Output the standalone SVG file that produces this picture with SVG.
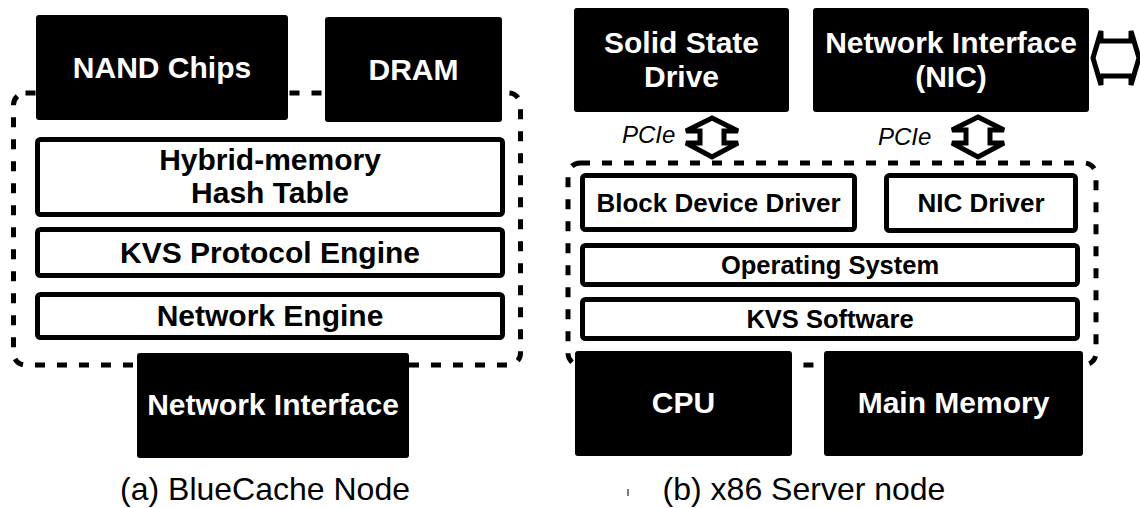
<svg xmlns="http://www.w3.org/2000/svg" width="1140" height="508" viewBox="0 0 1140 508">
<style>
.bg{fill:#fff}
.dash{fill:none;stroke:#000;stroke-width:5;stroke-dasharray:10 12}
.blk{fill:#000}
.wht{fill:#fff;stroke:#000;stroke-width:5}
.arr{fill:#fff;stroke:#000;stroke-width:5;stroke-linejoin:miter}
.tw{font-family:"Liberation Sans",Arial,sans-serif;font-weight:bold;font-size:30px;fill:#fff;text-anchor:middle}
.tb{font-family:"Liberation Sans",Arial,sans-serif;font-weight:bold;font-size:30px;fill:#000;text-anchor:middle}
.ts{font-family:"Liberation Sans",Arial,sans-serif;font-weight:bold;font-size:26px;fill:#000;text-anchor:middle}
.tss{font-family:"Liberation Sans",Arial,sans-serif;font-weight:bold;font-size:25.5px;fill:#000;text-anchor:middle}
.pc{font-family:"Liberation Sans",Arial,sans-serif;font-style:italic;font-size:24px;fill:#000}
.cap{font-family:"Liberation Sans",Arial,sans-serif;font-size:32px;fill:#000;text-anchor:middle}
</style>
<rect class="bg" x="0" y="0" width="1140" height="508"/>

<!-- (a) BlueCache node -->
<g id="container-a"><rect class="dash" x="13.5" y="93" width="507" height="272" rx="12"/></g>
<g id="nand"><rect class="blk" x="36" y="15" width="252" height="105" rx="3"/><text class="tw" x="162" y="78">NAND Chips</text></g>
<g id="dram"><rect class="blk" x="325" y="17" width="177" height="105" rx="3"/><text class="tw" x="413.5" y="80">DRAM</text></g>
<g id="hashtable"><rect class="wht" x="37.5" y="139.5" width="465" height="75" rx="3"/><text class="tb" x="270" y="170">Hybrid-memory</text><text class="tb" x="270" y="203">Hash Table</text></g>
<g id="kvs-engine"><rect class="wht" x="37.5" y="229.5" width="465" height="46" rx="3"/><text class="tb" x="270" y="263">KVS Protocol Engine</text></g>
<g id="net-engine"><rect class="wht" x="37.5" y="294.5" width="465" height="43" rx="3"/><text class="tb" x="270" y="326">Network Engine</text></g>
<g id="net-iface-a"><rect class="blk" x="137" y="353" width="272" height="105" rx="3"/><text class="tw" x="273" y="415">Network Interface</text></g>
<text class="cap" x="265" y="500">(a) BlueCache Node</text>

<!-- (b) x86 server node -->
<g id="container-b"><rect class="dash" x="568" y="163" width="528" height="202" rx="12"/></g>
<g id="ssd"><rect class="blk" x="574" y="8" width="215" height="104" rx="3"/><text class="tw" x="681.5" y="53">Solid State</text><text class="tw" x="681.5" y="87">Drive</text></g>
<g id="nic"><rect class="blk" x="813" y="8" width="276" height="104" rx="3"/><text class="tw" x="951" y="53">Network Interface</text><text class="tw" x="951" y="87">(NIC)</text></g>
<g id="block-driver"><rect class="wht" x="582.5" y="175.5" width="272" height="54" rx="3"/><text class="ts" x="718.5" y="212">Block Device Driver</text></g>
<g id="nic-driver"><rect class="wht" x="886.5" y="175.5" width="189" height="55" rx="3"/><text class="ts" x="981" y="212">NIC Driver</text></g>
<g id="os"><rect class="wht" x="582.5" y="245.5" width="495" height="39" rx="3"/><text class="tss" x="830" y="274">Operating System</text></g>
<g id="kvs-sw"><rect class="wht" x="582.5" y="299.5" width="495" height="39" rx="3"/><text class="tss" x="830" y="328">KVS Software</text></g>
<g id="cpu"><rect class="blk" x="575" y="351" width="217" height="105" rx="3"/><text class="tw" x="683.5" y="413">CPU</text></g>
<g id="mainmem"><rect class="blk" x="824" y="351" width="259" height="105" rx="3"/><text class="tw" x="953.5" y="413">Main Memory</text></g>
<text class="cap" x="804" y="500">(b) x86 Server node</text>
<line x1="628" y1="489" x2="628" y2="496" stroke="#555" stroke-width="1.5"/>

<g id="connectors">
<polygon class="arr" points="712,118 738,131 724,131 724,143 738,143 712,157 686,143 700,143 700,131 686,131"/>
<text class="pc" x="622" y="143">PCIe</text>
<polygon class="arr" points="978,117 1004,130 990,130 990,143 1004,143 978,157 952,143 966,143 966,130 952,130"/>
<text class="pc" x="878" y="145">PCIe</text>
<polygon class="arr" points="1093,58 1101,31 1101,41 1131,41 1131,31 1139,58 1131,85 1131,76 1101,76 1101,85"/>
</g>
</svg>
